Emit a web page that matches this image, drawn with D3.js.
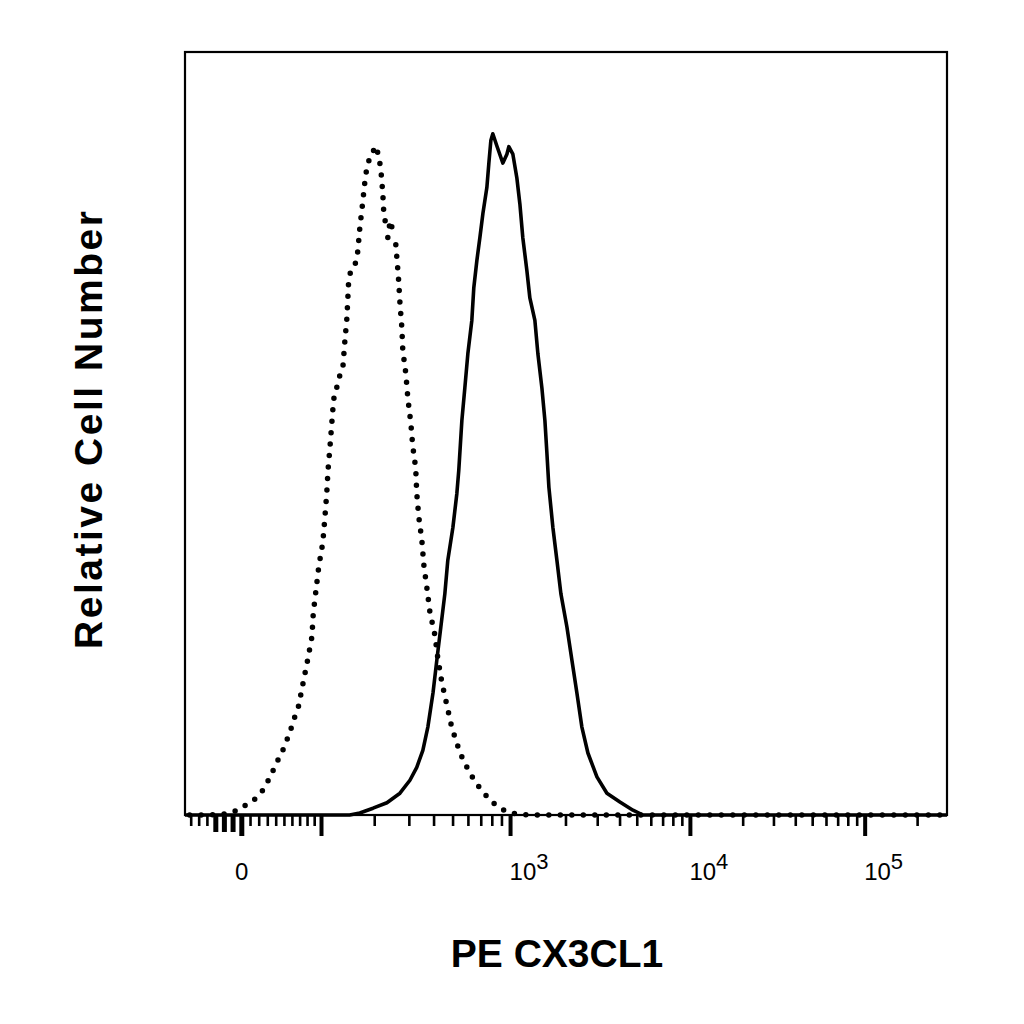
<!DOCTYPE html>
<html lang="en">
<head>
<meta charset="UTF-8">
<title>PE CX3CL1 histogram</title>
<script src="https://d3js.org/d3.v7.min.js"></script>
<style>
    body { margin: 0; background: #fff; }
    svg text { font-family: "Liberation Sans", Arial, sans-serif; fill: #000; }
    .axis-title { font-size: 39px; font-weight: bold; }
    .tick-label { font-size: 24px; }
</style>
</head>
<body>
<svg width="1024" height="1024"></svg>
<script>
// isotype control (dotted) - fluorescence value / % of max
const isoX = [-62, -37, -23, -10, 1, 13, 22, 29, 35, 41, 48, 53, 58, 63, 68, 74, 80, 86, 88, 92,
    96, 102, 105, 108, 110, 113, 116, 119, 124, 129, 135, 138, 142, 144, 145, 149, 159, 163, 167, 173,
    178, 182, 189, 203, 210, 215, 220, 223, 231, 250, 233, 256, 259, 262, 265, 269, 275, 278, 288, 295,
    305, 312, 323, 327, 335, 347, 355, 368, 381, 404, 418, 438, 465, 493, 517, 542, 575, 610, 656, 714,
    777, 856, 968, 1095, 1270, 295000];
const isoY = [0, 0, 0.1, 0.4, 1.2, 2.1, 3.2, 4.7, 6.2, 7.8, 9.5, 11.0, 12.6, 14.4, 16.0, 19.4, 22.7, 26.1, 29.6, 33.1,
    36.5, 40.0, 43.5, 47.2, 50.6, 53.9, 57.5, 61.0, 62.7, 64.4, 66.0, 69.3, 73.0, 76.4, 78.1, 79.9, 81.1, 82.8, 86.2, 89.9,
    93.2, 95.0, 96.6, 98.2, 96.6, 94.8, 91.3, 88.0, 86.1, 87.1, 84.7, 83.9, 82.1, 80.3, 78.4, 75.1, 71.5, 68.2, 64.8, 61.1,
    57.6, 54.2, 50.9, 47.2, 43.7, 40.3, 36.7, 33.3, 29.8, 26.4, 23.0, 19.5, 16.1, 12.8, 11.0, 9.2, 7.6, 6.2, 4.7, 3.4,
    2.2, 1.2, 0.4, 0.1, 0, 0];

// PE CX3CL1 stained (solid)
const cxX = [-68, 147, 167, 196, 231, 269, 302, 327, 351, 372, 395, 413, 433, 454, 470, 499, 523, 535, 555, 575,
    596, 625, 640, 664, 688, 714, 749, 767, 786, 805, 846, 910, 956, 979, 1029, 1081, 1122, 1164, 1224, 1270,
    1352, 1404, 1476, 1533, 1572, 1612, 1695, 1783, 1875, 2024, 2157, 2298, 2449, 2645, 2969, 3376, 3993, 4727, 5383, 5895,
    295000];
const cxY = [0, 0, 0.3, 1.0, 1.8, 3.2, 5.1, 7.0, 9.5, 12.9, 17.9, 22.7, 27.6, 32.5, 37.4, 42.2, 47.2, 50.6, 57.9, 62.7,
    67.7, 72.6, 77.4, 81.4, 84.7, 88.3, 92.1, 95.6, 99.0, 100, 98.2, 95.7, 97.0, 98.1, 97.0, 93.5, 89.7, 84.7, 79.9, 75.9,
    72.6, 67.7, 62.7, 57.9, 53.1, 48.1, 42.2, 37.4, 32.5, 27.6, 22.7, 17.9, 12.9, 9.1, 5.6, 3.2, 1.9, 0.7, 0, 0,
    0];

const xDomain = [-68, 295000];
const yDomain = [0, 112];
const majorTicks = [0, 100, 1000, 10000, 100000];
const boldTicks = [-30, -20, -10];
const labelTicks = [0, 1000, 10000, 100000];
const labelBase = ["0", "10", "10", "10"];
const labelExp = ["", "3", "4", "5"];
const xTitle = "PE CX3CL1";
const yTitle = "Relative Cell Number";

// logicle (biexponential) transform
const LT = 262144, LM = 4.5, LW = 0.5, LP = 2.3;
const LA = LT * Math.pow(10, -(LM - LW));
function logicleInv(d) {
    const a = Math.abs(d);
    const v = LA * (Math.pow(10, a) - LP * LP * Math.pow(10, -a / LP) + LP * LP - 1);
    return d < 0 ? -v : v;
}
function logicle(v) {
    let lo = -3, hi = 7;
    for (let i = 0; i < 60; i++) {
        const mid = (lo + hi) / 2;
        if (logicleInv(mid) < v) lo = mid; else hi = mid;
    }
    return (lo + hi) / 2;
}

const plotL = 185, plotR = 947, plotT = 52, plotB = 815;
const xDisp = d3.scaleLinear().domain(xDomain.map(logicle)).range([plotL, plotR]);
const x = v => xDisp(logicle(v));
const y = d3.scaleLinear().domain(yDomain).range([plotB, plotT]);

const svg = d3.select("svg");

// minor ticks: linear region and each decade
let minorTicks = [];
for (let k = 1; k <= 9; k++) { minorTicks.push(k * 10); minorTicks.push(-k * 10); }
[100, 1000, 10000, 100000].forEach(dec => {
    for (let k = 2; k <= 9; k++) minorTicks.push(dec * k);
});
minorTicks = minorTicks.filter(v => v > xDomain[0] && v < xDomain[1] && boldTicks.indexOf(v) < 0);

const axis = svg.append("g");
axis.selectAll("line.minor").data(minorTicks).enter().append("line")
    .attr("x1", d => x(d)).attr("x2", d => x(d))
    .attr("y1", plotB).attr("y2", plotB + 11)
    .attr("stroke", "#000").attr("stroke-width", 2.6);
axis.selectAll("line.bold").data(boldTicks).enter().append("line")
    .attr("x1", d => x(d)).attr("x2", d => x(d))
    .attr("y1", plotB).attr("y2", plotB + 17)
    .attr("stroke", "#000").attr("stroke-width", 5);
axis.selectAll("line.major").data(majorTicks).enter().append("line")
    .attr("x1", d => x(d)).attr("x2", d => x(d))
    .attr("y1", plotB).attr("y2", plotB + 21)
    .attr("stroke", "#000").attr("stroke-width", d => d === 0 ? 5 : 4);

const labels = axis.selectAll("text.tick-label").data(labelTicks).enter().append("text")
    .attr("class", "tick-label")
    .attr("x", (d, i) => i === 0 ? x(d) : x(d) - 1)
    .attr("y", 880)
    .attr("text-anchor", (d, i) => i === 0 ? "middle" : "start");
labels.append("tspan").text((d, i) => labelBase[i]);
labels.append("tspan").attr("dy", -11).style("font-size", "22px").text((d, i) => labelExp[i]);

// histograms
const line = d3.line().x(d => x(d[0])).y(d => y(d[1]));
svg.append("path")
    .datum(isoX.map((v, i) => [v, isoY[i]]))
    .attr("d", line)
    .attr("fill", "none").attr("stroke", "#000")
    .attr("stroke-width", 5.5).attr("stroke-linecap", "round")
    .attr("stroke-dasharray", "0 11.5");
svg.append("path")
    .datum(cxX.map((v, i) => [v, cxY[i]]))
    .attr("d", line)
    .attr("fill", "none").attr("stroke", "#000")
    .attr("stroke-width", 3.6).attr("stroke-linejoin", "round");

// frame
svg.append("rect")
    .attr("x", plotL).attr("y", plotT)
    .attr("width", plotR - plotL).attr("height", plotB - plotT)
    .attr("fill", "none").attr("stroke", "#000").attr("stroke-width", 2.2);

// titles
svg.append("text").attr("class", "axis-title")
    .attr("x", 557).attr("y", 967).attr("text-anchor", "middle")
    .text(xTitle);
svg.append("text").attr("class", "axis-title")
    .attr("transform", "translate(102,430) rotate(-90)")
    .attr("text-anchor", "middle")
    .attr("textLength", 438).attr("lengthAdjust", "spacing")
    .text(yTitle);
</script>
</body>
</html>
